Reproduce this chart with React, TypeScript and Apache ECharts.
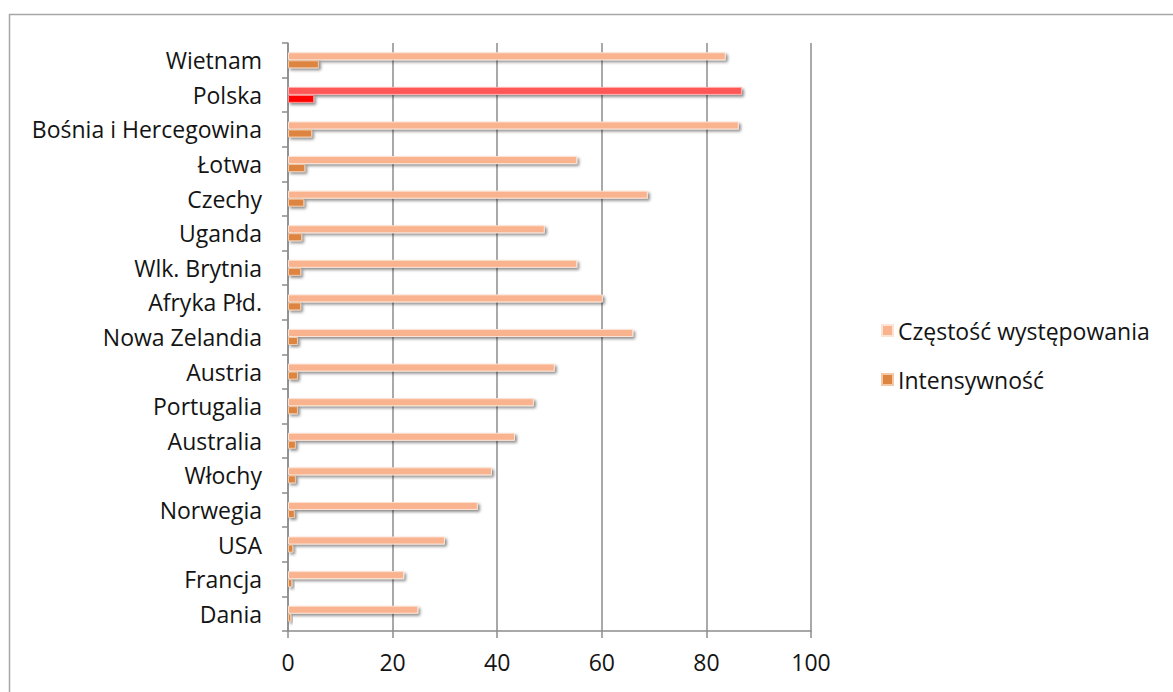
import React, { useEffect, useRef } from "react";
import * as echarts from "echarts";

const categories = [
  "Wietnam", "Polska", "Bośnia i Hercegowina", "Łotwa", "Czechy", "Uganda",
  "Wlk. Brytnia", "Afryka Płd.", "Nowa Zelandia", "Austria", "Portugalia",
  "Australia", "Włochy", "Norwegia", "USA", "Francja", "Dania",
];
const czestosc = [83.7, 86.8, 86.2, 55.3, 68.8, 49.1, 55.3, 60.2, 66, 51, 47, 43.4, 39, 36.3, 30, 22.2, 24.9];
const intensywnosc = [5.9, 5, 4.6, 3.3, 3.1, 2.7, 2.5, 2.5, 1.9, 1.9, 1.9, 1.5, 1.5, 1.3, 1, 0.8, 0.6];
const xTicks = [0, 20, 40, 60, 80, 100];
const highlight = "Polska";

const FONT = "'Open Sans', 'Noto Sans', sans-serif";
const FS = 23;

export default function App() {
  const ref = useRef<HTMLDivElement>(null);
  useEffect(() => {
    document.body.style.margin = "0";
    if (!ref.current) return;
    const chart = echarts.init(ref.current, undefined, { renderer: "svg" });
    const shadow = {
      shadowBlur: 3,
      shadowColor: "rgba(0,0,0,0.45)",
      shadowOffsetX: 2,
      shadowOffsetY: 2,
    };
    chart.setOption({
      animation: false,
      backgroundColor: "#ffffff",
      graphic: [
        {
          type: "rect",
          shape: { x: 9.5, y: 14.5, width: 1200, height: 700 },
          style: { fill: "none", stroke: "#a6a6a6", lineWidth: 1.5 },
          silent: true,
          z: -10,
        },
      ],
      grid: { left: 288, top: 43, right: 362, bottom: 61, containLabel: false },
      legend: {
        orient: "vertical",
        left: 876,
        top: 314,
        itemWidth: 11,
        itemHeight: 11,
        itemGap: 26,
        icon: "rect",
        textStyle: { fontSize: FS, color: "#141414", fontFamily: FONT },
        data: ["Częstość występowania", "Intensywność"],
      },
      xAxis: {
        type: "value",
        min: xTicks[0],
        max: xTicks[xTicks.length - 1],
        interval: 20,
        axisLine: { show: true, lineStyle: { color: "#8c8c8c", width: 1.5 } },
        axisTick: { show: true, length: 7, lineStyle: { color: "#8c8c8c", width: 1.5 } },
        axisLabel: { fontSize: FS, color: "#141414", fontFamily: FONT, margin: 19 },
        splitLine: { show: true, lineStyle: { color: "#8c8c8c", width: 1.5 } },
      },
      yAxis: {
        type: "category",
        inverse: true,
        data: categories,
        axisLine: { show: true, lineStyle: { color: "#8c8c8c", width: 1.5 } },
        axisTick: { show: true, length: 6, lineStyle: { color: "#8c8c8c", width: 1.5 } },
        axisLabel: { fontSize: FS, color: "#141414", fontFamily: FONT, margin: 26 },
      },
      series: [
        {
          name: "Częstość występowania",
          type: "bar",
          barWidth: 8,
          barGap: "0%",
          itemStyle: { color: "#f9b38e", borderColor: "#fde3d3", borderWidth: 1, ...shadow },
          data: czestosc.map((v, i) =>
            categories[i] === highlight
              ? { value: v, itemStyle: { color: "#ff5757", borderColor: "#ffb0b0" } }
              : v
          ),
        },
        {
          name: "Intensywność",
          type: "bar",
          barWidth: 8,
          barGap: "0%",
          itemStyle: { color: "#dd8440", borderColor: "#f2c8a6", borderWidth: 1, ...shadow },
          data: intensywnosc.map((v, i) =>
            categories[i] === highlight
              ? { value: v, itemStyle: { color: "#ff0000", borderColor: "#ff9090" } }
              : v
          ),
        },
      ],
    });
    return () => chart.dispose();
  }, []);
  return <div ref={ref} style={{ width: 1173, height: 692 }} />;
}
